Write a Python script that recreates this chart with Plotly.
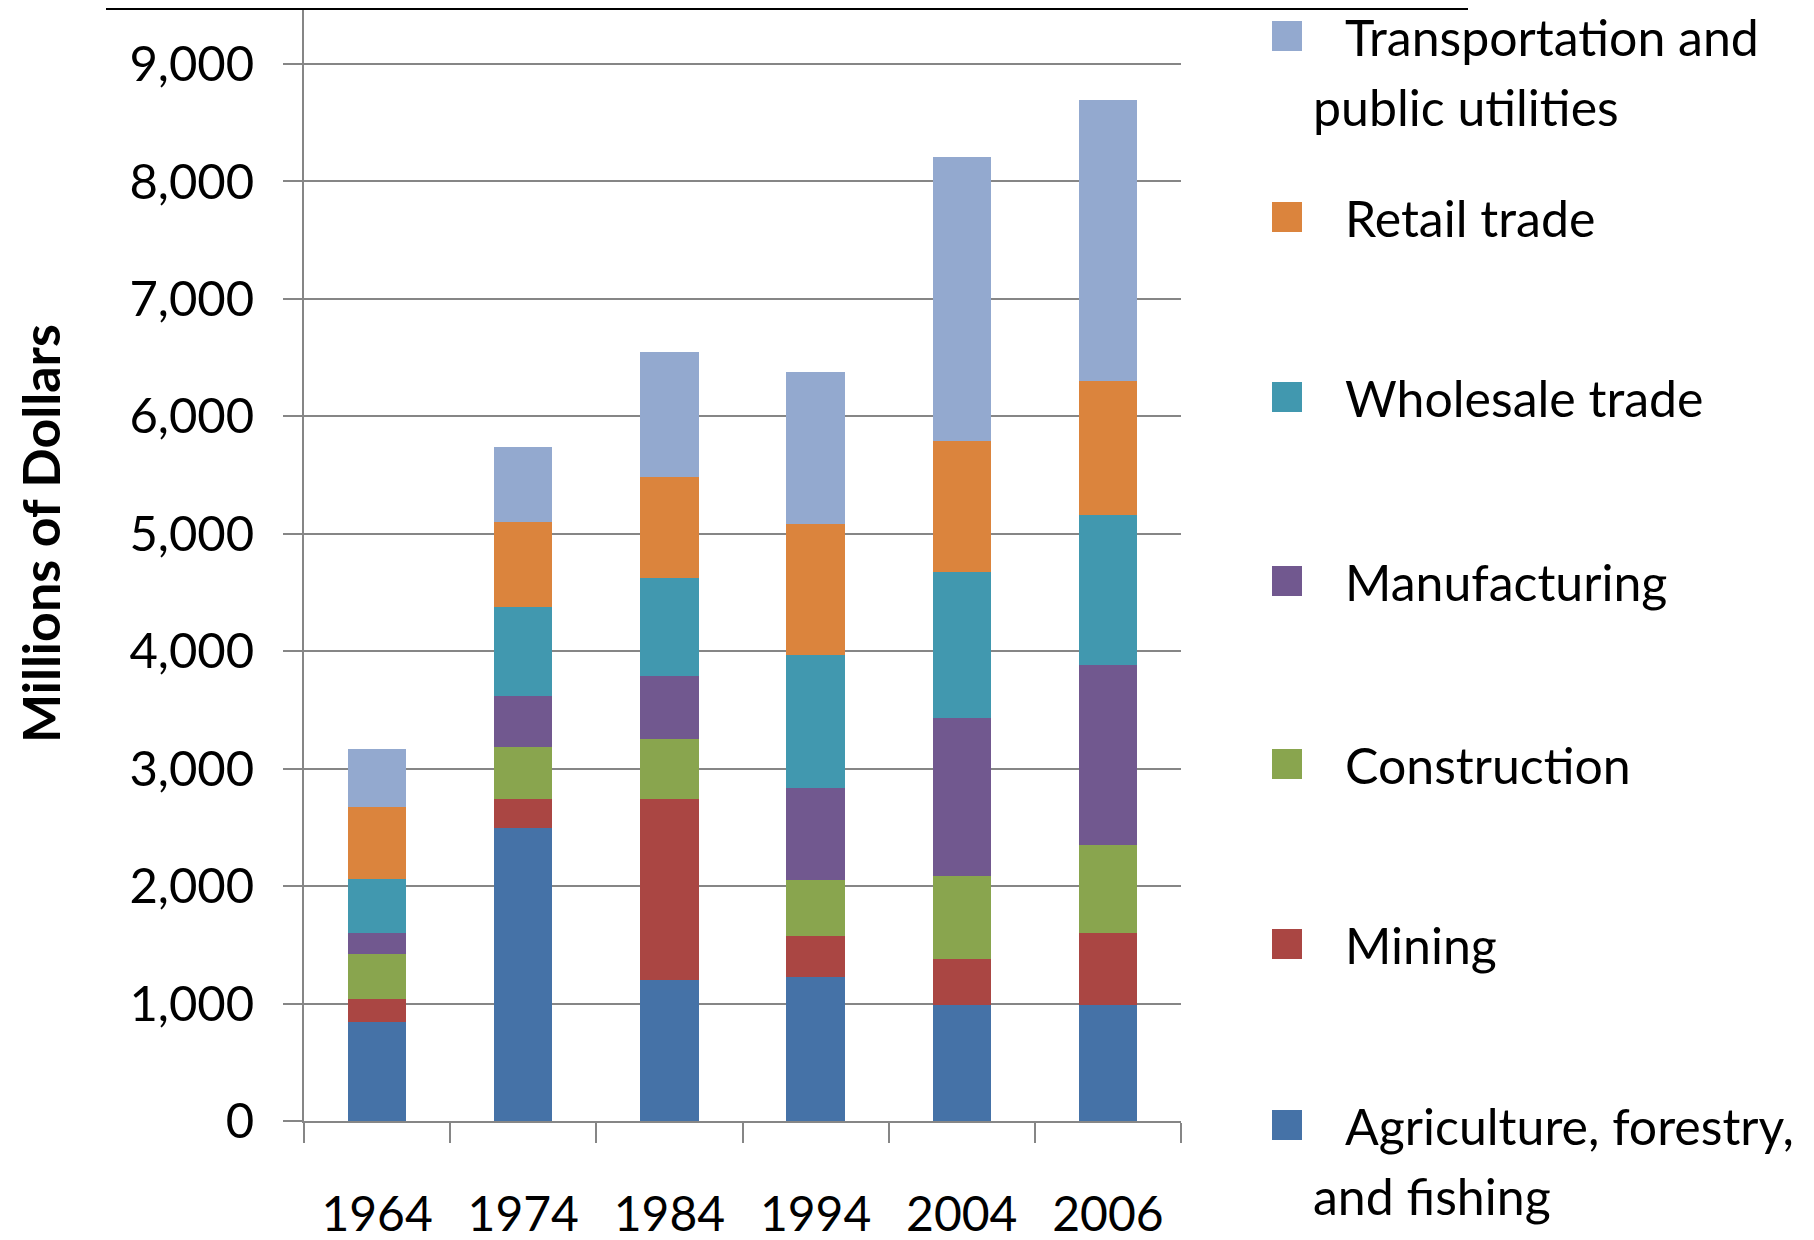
import plotly.graph_objects as go

# ---------------- data ----------------
years = ["1964", "1974", "1984", "1994", "2004", "2006"]

agriculture = [840, 2495, 1203, 1226, 989, 989]
mining = [195, 250, 1540, 347, 390, 610]
construction = [390, 442, 508, 483, 703, 754]
manufacturing = [175, 428, 542, 780, 1346, 1531]
wholesale = [463, 760, 832, 1129, 1246, 1274]
retail = [612, 725, 856, 1116, 1115, 1140]
transportation = [493, 640, 1063, 1294, 2415, 2397]

series_names = [
    "Agriculture, forestry, and fishing",
    "Mining",
    "Construction",
    "Manufacturing",
    "Wholesale trade",
    "Retail trade",
    "Transportation and public utilities",
]
series_values = [agriculture, mining, construction, manufacturing,
                 wholesale, retail, transportation]
legend_lines = {
    "Agriculture, forestry, and fishing": ["Agriculture, forestry,", "and fishing"],
    "Mining": ["Mining"],
    "Construction": ["Construction"],
    "Manufacturing": ["Manufacturing"],
    "Wholesale trade": ["Wholesale trade"],
    "Retail trade": ["Retail trade"],
    "Transportation and public utilities": ["Transportation and", "public utilities"],
}
y_title = "Millions of Dollars"

# ---------------- style ----------------
colors = ["#4572A7", "#AA4643", "#89A54E", "#71588F",
          "#4198AF", "#DB843D", "#93A9CF"]
W, H = 1814, 1240
OFF = 8  # page body margin
# plot area in page pixels: x 304..1181, y 10..1121
L = 304 - OFF
T = 10 - OFF
R = W - (1181 - OFF)
B = H - (1121 - OFF)
PW, PH = W - L - R, H - T - B
FONT = "Lato, 'Open Sans', sans-serif"
GRID = "#868686"
Y_MAX = 9000 * PH / (1121 - 64)


def pxx(px):
    return (px - OFF - L) / PW


def pxy(py):
    return (T + PH - (py - OFF)) / PH


fig = go.Figure()
for name, vals, col in zip(series_names, series_values, colors):
    fig.add_trace(go.Bar(
        x=years, y=vals, name=name,
        marker=dict(color=col, line=dict(width=0)),
        showlegend=False,
    ))

# legend drawn manually (Excel-style, large squares, top-to-bottom reversed)
legend_centers = {
    "Transportation and public utilities": 36,
    "Retail trade": 217,
    "Wholesale trade": 397,
    "Manufacturing": 581,
    "Construction": 764,
    "Mining": 944,
    "Agriculture, forestry, and fishing": 1125,
}
shapes = []
annotations = []
for name, col in zip(series_names, colors):
    cy = legend_centers[name]
    shapes.append(dict(type="rect", xref="paper", yref="paper",
                       x0=pxx(1272), x1=pxx(1302),
                       y0=pxy(cy + 15), y1=pxy(cy - 15),
                       fillcolor=col, line=dict(width=0)))
    lines = legend_lines[name]
    for i, line in enumerate(lines):
        annotations.append(dict(
            text=line, xref="paper", yref="paper",
            x=pxx(1343 if i == 0 else 1311), y=pxy(cy + 1 + 70 * i),
            xanchor="left", yanchor="middle", showarrow=False,
            font=dict(family=FONT, size=50, color="#000000"),
        ))

# y-axis title
annotations.append(dict(
    text="<b>%s</b>" % y_title, xref="paper", yref="paper",
    x=pxx(40), y=pxy(534), textangle=-90,
    xanchor="center", yanchor="middle", showarrow=False,
    font=dict(family=FONT, size=52, color="#000000"),
))

# cropped title box at top (only its bottom edge is visible)
shapes.append(dict(type="rect", xref="paper", yref="paper",
                   x0=pxx(107), x1=pxx(1467), y0=pxy(9), y1=pxy(-30),
                   line=dict(color="#000000", width=2), fillcolor="rgba(0,0,0,0)"))

fig.update_layout(
    width=W, height=H,
    margin=dict(l=L, r=R, t=T, b=B, pad=0, autoexpand=False),
    barmode="stack",
    bargap=0.6,
    paper_bgcolor="white",
    plot_bgcolor="white",
    shapes=shapes,
    annotations=annotations,
    font=dict(family=FONT, color="#000000"),
)
fig.update_xaxes(
    type="category", automargin=False,
    showline=True, linecolor=GRID, linewidth=2,
    ticks="outside", tickson="boundaries", ticklen=20, tickwidth=2, tickcolor=GRID,
    tickfont=dict(family=FONT, size=48, color="#000000"),
    ticklabelstandoff=50,
    showgrid=False, zeroline=False,
)
fig.update_yaxes(
    range=[0, Y_MAX], automargin=False,
    dtick=1000, tickformat=",d",
    showline=True, linecolor=GRID, linewidth=2,
    ticks="outside", ticklen=19, tickwidth=2, tickcolor=GRID,
    tickfont=dict(family=FONT, size=49, color="#000000"),
    ticklabelstandoff=19,
    showgrid=True, gridcolor=GRID, gridwidth=2,
    zeroline=False,
)

fig.write_html("out.html")
